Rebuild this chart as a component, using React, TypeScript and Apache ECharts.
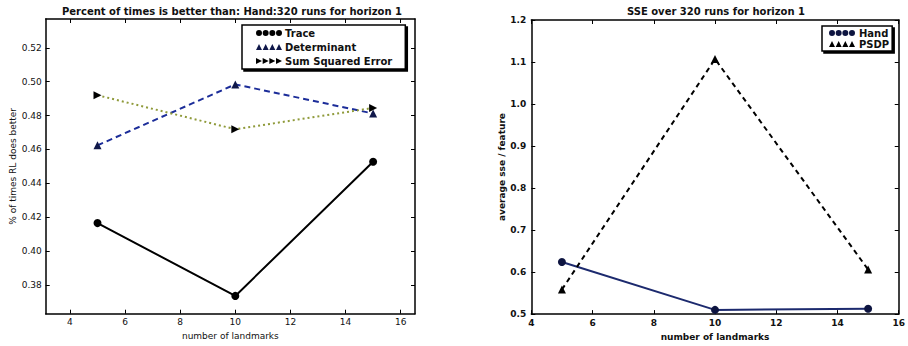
import React, { useEffect, useRef } from "react";
import * as echarts from "echarts";

const landmarks = [5, 10, 15];
const trace = [0.4165, 0.3735, 0.4527];
const determinant = [0.4624, 0.4984, 0.4812];
const sumSquaredError = [0.492, 0.4719, 0.4845];
const hand = [0.624, 0.51, 0.5126];
const psdp = [0.5585, 1.107, 0.606];

const leftXTicks = [4, 6, 8, 10, 12, 14, 16];
const leftYTicks = [0.38, 0.4, 0.42, 0.44, 0.46, 0.48, 0.5, 0.52];

const leftTitle = "Percent of times is better than: Hand:320 runs for horizon 1";
const rightTitle = "SSE over 320 runs for horizon 1";
const xName = "number of landmarks";
const leftYName = "% of times RL does better";
const rightYName = "average sse / feature";

const FONT = "DejaVu Sans";

const pairs = (ys: number[]) => landmarks.map((x, i) => [x, ys[i]]);

const circles4 =
  "path://M0,3A3,3 0 1,1 6,3A3,3 0 1,1 0,3Z M6.67,3A3,3 0 1,1 12.67,3A3,3 0 1,1 6.67,3Z M13.33,3A3,3 0 1,1 19.33,3A3,3 0 1,1 13.33,3Z M20,3A3,3 0 1,1 26,3A3,3 0 1,1 20,3Z";
const tri4 =
  "path://M0,6L3,0L6,6Z M6.67,6L9.67,0L12.67,6Z M13.33,6L16.33,0L19.33,6Z M20,6L23,0L26,6Z";
const rtri4 =
  "path://M0,0L6,3L0,6Z M6.67,0L12.67,3L6.67,6Z M13.33,0L19.33,3L13.33,6Z M20,0L26,3L20,6Z";
const rightTri = "path://M0,0L10,5L0,10Z";

export default function App() {
  const ref = useRef<HTMLDivElement>(null);
  useEffect(() => {
    if (!ref.current) return;
    const chart = echarts.init(ref.current, undefined, { renderer: "svg" });
    const axisLine = { show: true, lineStyle: { color: "#000", width: 1.5 } };
    const tickStyle = { show: true, inside: true, length: 4, lineStyle: { color: "#000", width: 1 } };
    const labelStyle = { color: "#111", fontSize: 9, fontFamily: FONT };
    const nameStyle = { color: "#111", fontSize: 9, fontFamily: FONT };
    const legendShadow = {
      shadowColor: "#000",
      shadowBlur: 0,
      shadowOffsetX: 2,
      shadowOffsetY: 2,
    };

    const leftX = {
      type: "value",
      min: 3.12,
      max: 16.52,
      axisLine,
      splitLine: { show: false },
    };
    const leftY = {
      type: "value",
      min: 0.363,
      max: 0.537,
      axisLine,
      splitLine: { show: false },
    };

    const option: any = {
      animation: false,
      backgroundColor: "#fff",
      grid: [
        { left: 45.7, top: 19, width: 369.3, height: 294.7 },
        { left: 531.3, top: 20, width: 369.4, height: 294.3 },
      ],
      xAxis: [
        {
          ...leftX,
          gridIndex: 0,
          position: "bottom",
          axisTick: { ...tickStyle, customValues: leftXTicks },
          axisLabel: { ...labelStyle, margin: 4, customValues: leftXTicks },
          name: xName,
          nameLocation: "middle",
          nameGap: 12,
          nameTextStyle: nameStyle,
        },
        {
          ...leftX,
          gridIndex: 0,
          position: "top",
          axisTick: { ...tickStyle, customValues: leftXTicks },
          axisLabel: { show: false },
        },
        {
          type: "value",
          gridIndex: 1,
          position: "bottom",
          min: 4,
          max: 16,
          interval: 2,
          axisLine,
          splitLine: { show: false },
          axisTick: tickStyle,
          axisLabel: { ...labelStyle, fontWeight: "bold", margin: 4 },
          name: xName,
          nameLocation: "middle",
          nameGap: 12,
          nameTextStyle: { ...nameStyle, fontWeight: "bold" },
        },
        {
          type: "value",
          gridIndex: 1,
          position: "top",
          min: 4,
          max: 16,
          interval: 2,
          axisLine,
          splitLine: { show: false },
          axisTick: tickStyle,
          axisLabel: { show: false },
        },
      ],
      yAxis: [
        {
          ...leftY,
          gridIndex: 0,
          position: "left",
          axisTick: { ...tickStyle, customValues: leftYTicks },
          axisLabel: {
            ...labelStyle,
            margin: 4,
            customValues: leftYTicks,
            formatter: (v: number) => v.toFixed(2),
          },
          name: leftYName,
          nameLocation: "middle",
          nameGap: 27,
          nameTextStyle: nameStyle,
        },
        {
          ...leftY,
          gridIndex: 0,
          position: "right",
          axisTick: { ...tickStyle, customValues: leftYTicks },
          axisLabel: { show: false },
        },
        {
          type: "value",
          gridIndex: 1,
          position: "left",
          min: 0.5,
          max: 1.2,
          interval: 0.1,
          axisLine,
          splitLine: { show: false },
          axisTick: tickStyle,
          axisLabel: {
            ...labelStyle,
            fontWeight: "bold",
            margin: 5,
            formatter: (v: number) => v.toFixed(1),
          },
          name: rightYName,
          nameLocation: "middle",
          nameGap: 23,
          nameTextStyle: { ...nameStyle, fontWeight: "bold" },
        },
        {
          type: "value",
          gridIndex: 1,
          position: "right",
          min: 0.5,
          max: 1.2,
          interval: 0.1,
          axisLine,
          splitLine: { show: false },
          axisTick: tickStyle,
          axisLabel: { show: false },
        },
      ],
      legend: [
        {
          left: 242,
          top: 25,
          orient: "vertical",
          backgroundColor: "#fff",
          borderColor: "#000",
          borderWidth: 1.5,
          ...legendShadow,
          padding: [3, 13, 3, 14],
          itemGap: 4,
          itemWidth: 26,
          itemHeight: 6,
          textStyle: { color: "#111", fontSize: 10, fontWeight: "bold", fontFamily: FONT, padding: [0, 0, 0, -2] },
          data: [
            { name: "Trace", icon: circles4 },
            { name: "Determinant", icon: tri4 },
            { name: "Sum Squared Error", icon: rtri4 },
          ],
        },
        {
          left: 822,
          top: 26,
          orient: "vertical",
          backgroundColor: "#fff",
          borderColor: "#000",
          borderWidth: 1.5,
          ...legendShadow,
          padding: [2, 3, 2, 7],
          itemGap: 1,
          itemWidth: 28,
          itemHeight: 6,
          textStyle: { color: "#111", fontSize: 10, fontWeight: "bold", fontFamily: FONT, padding: [0, 0, 0, -2] },
          data: [
            { name: "Hand", icon: circles4 },
            { name: "PSDP", icon: tri4 },
          ],
        },
      ],
      graphic: [
        {
          type: "text",
          x: 232,
          y: 11,
          style: {
            text: leftTitle,
            fill: "#111",
            font: `bold 10px '${FONT}'`,
            textAlign: "center",
            textVerticalAlign: "middle",
          },
        },
        {
          type: "text",
          x: 716,
          y: 11,
          style: {
            text: rightTitle,
            fill: "#111",
            font: `bold 10px '${FONT}'`,
            textAlign: "center",
            textVerticalAlign: "middle",
          },
        },
      ],
      series: [
        {
          name: "Trace",
          type: "line",
          xAxisIndex: 0,
          yAxisIndex: 0,
          data: pairs(trace),
          symbol: "circle",
          symbolSize: 8,
          itemStyle: { color: "#000" },
          lineStyle: { color: "#000", width: 2 },
        },
        {
          name: "Determinant",
          type: "line",
          xAxisIndex: 0,
          yAxisIndex: 0,
          data: pairs(determinant),
          symbol: "triangle",
          symbolSize: 8,
          itemStyle: { color: "#10184a" },
          lineStyle: { color: "#1c2d99", width: 2, type: [6, 4] },
        },
        {
          name: "Sum Squared Error",
          type: "line",
          xAxisIndex: 0,
          yAxisIndex: 0,
          data: pairs(sumSquaredError),
          symbol: rightTri,
          symbolSize: 8,
          itemStyle: { color: "#000" },
          lineStyle: { color: "#8f9a3a", width: 2, type: [2, 3] },
        },
        {
          name: "Hand",
          type: "line",
          xAxisIndex: 2,
          yAxisIndex: 2,
          data: pairs(hand),
          symbol: "circle",
          symbolSize: 8,
          itemStyle: { color: "#0d1440" },
          lineStyle: { color: "#1c2a6e", width: 2 },
        },
        {
          name: "PSDP",
          type: "line",
          xAxisIndex: 2,
          yAxisIndex: 2,
          data: pairs(psdp),
          symbol: "triangle",
          symbolSize: 8,
          itemStyle: { color: "#000" },
          lineStyle: { color: "#000", width: 2, type: [5, 4] },
        },
      ],
    };
    chart.setOption(option);
    return () => chart.dispose();
  }, []);
  return (
    <div
      ref={ref}
      style={{ position: "fixed", left: 0, top: 0, width: 908, height: 346, background: "#fff" }}
    />
  );
}
